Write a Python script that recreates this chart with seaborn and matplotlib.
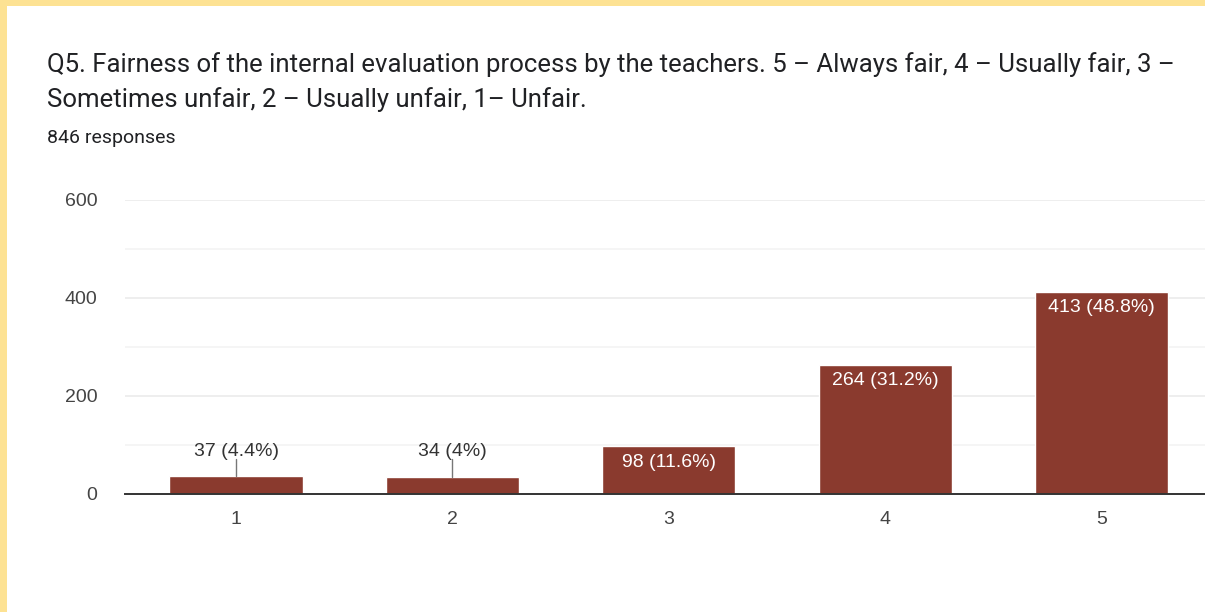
import pandas as pd
import numpy as np
import matplotlib.pyplot as plt
import seaborn as sns

ratings = ["1", "2", "3", "4", "5"]
counts = [37, 34, 98, 264, 413]
labels = ["37 (4.4%)", "34 (4%)", "98 (11.6%)", "264 (31.2%)", "413 (48.8%)"]
label_inside = [False, False, True, True, True]

data = pd.DataFrame({"rating": ratings, "count": counts})

sns.set_style("white")
plt.rcParams["font.family"] = ["Liberation Sans", "DejaVu Sans"]

fig = plt.figure(figsize=(12.05, 6.12), dpi=100)
fig.patch.set_facecolor("#fde293")
# white card over the yellow border
fig.add_artist(plt.Rectangle((7 / 1205, 0), 1, 1 - 6 / 612, transform=fig.transFigure,
                             facecolor="white", edgecolor="none", zorder=0))

ax = fig.add_axes([125 / 1205, 118 / 612, 1 - 125 / 1205, 294 / 612])
ax.set_facecolor("none")

sns.barplot(data=data, x="rating", y="count", color="#8a3a2e", saturation=1,
            width=0.615, ax=ax, zorder=3)

ax.set_ylim(0, 600)
ax.set_xlim(-0.513, 4.478)
ax.set_yticks([0, 200, 400, 600])
ax.set_yticks([100, 300, 500], minor=True)
ax.grid(axis="y", which="major", color="#ebebeb", linewidth=1.2, zorder=0)
ax.grid(axis="y", which="minor", color="#f4f4f4", linewidth=1.2, zorder=0)
ax.tick_params(axis="both", which="both", length=0, colors="#444444", labelsize=14)
ax.tick_params(axis="y", pad=20)
ax.tick_params(axis="x", pad=12)
for s in ["top", "right", "left"]:
    ax.spines[s].set_visible(False)
ax.spines["bottom"].set_color("#333333")
ax.spines["bottom"].set_linewidth(1.4)
ax.spines["bottom"].set_zorder(4)
ax.set_xlabel("")
ax.set_ylabel("")

for i, (c, lab, inside) in enumerate(zip(counts, labels, label_inside)):
    if inside:
        ax.text(i, c - 42, lab, ha="center", va="baseline", color="white", fontsize=14, zorder=5)
    else:
        ax.plot([i, i], [c, 72], color="#777777", linewidth=1, zorder=4)
        ax.text(i, 77, lab, ha="center", va="baseline", color="#333333", fontsize=14, zorder=5)

fig.text(47 / 1205, 1 - 65 / 612,
         "Q5. Fairness of the internal evaluation process by the teachers. 5 \u2013 Always fair, 4 \u2013 Usually fair, 3 \u2013",
         fontsize=18.5, color="#202124", family=["Roboto", "DejaVu Sans"], va="center")
fig.text(47 / 1205, 1 - 100 / 612,
         "Sometimes unfair, 2 \u2013 Usually unfair, 1\u2013 Unfair.",
         fontsize=18.5, color="#202124", family=["Roboto", "DejaVu Sans"], va="center")
fig.text(47 / 1205, 1 - 138 / 612, "846 responses",
         fontsize=14, color="#202124", family=["Roboto", "DejaVu Sans"], va="center")

plt.savefig("out.png", dpi=100)
